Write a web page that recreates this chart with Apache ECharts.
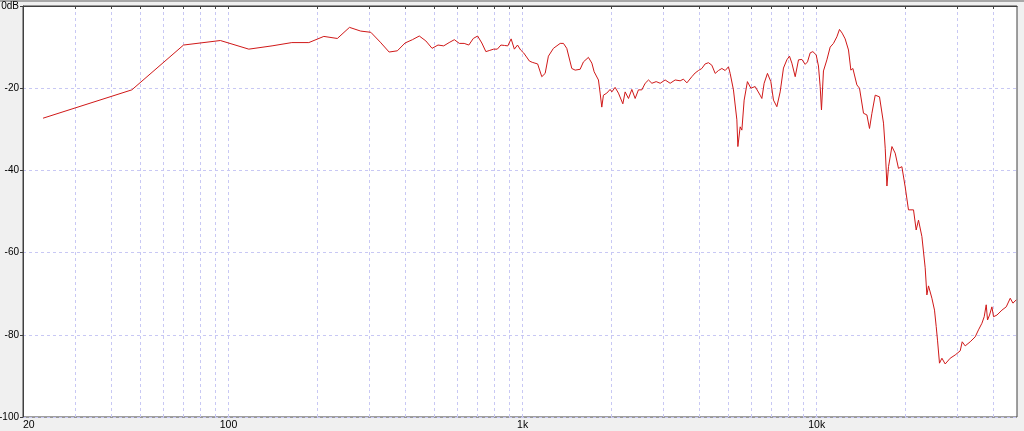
<!DOCTYPE html>
<html>
<head>
<meta charset="utf-8">
<script src="https://cdn.jsdelivr.net/npm/echarts@6/dist/echarts.min.js"></script>
<style>
html,body{margin:0;padding:0;background:#f0f0f0;}
#c{width:1024px;height:431px;}
</style>
</head>
<body>
<div id="c"></div>
<script>
// Frequency (Hz)
const freqs = [
  23.4, 46.9, 70.3, 93.8, 117.2, 140.6, 164.1, 187.5, 210.9, 234.4,
  257.8, 281.3, 304.7, 328.1, 351.6, 375.0, 398.4, 421.9, 445.3, 468.8,
  492.2, 515.6, 539.1, 562.5, 585.9, 609.4, 632.8, 656.3, 679.7, 703.1,
  726.6, 750.0, 773.4, 796.9, 820.3, 843.8, 867.2, 890.6, 914.1, 937.5,
  960.9, 984.4, 1007.8, 1031.3, 1054.7, 1078.1, 1101.6, 1125.0,
  1162, 1193, 1224, 1273, 1342, 1377, 1413, 1470, 1509, 1569, 1610, 1674, 1720, 1751,
  1811, 1835, 1859, 1883, 1933, 1984, 2011, 2063, 2118, 2192, 2232, 2291, 2352, 2414,
  2477, 2544, 2611, 2680, 2752, 2846, 2937, 3053, 3175, 3302, 3434, 3523, 3619, 3763,
  3861, 3963, 4069, 4175, 4285, 4400, 4517, 4634, 4760, 4885, 5012, 5079, 5212, 5353,
  5395, 5493, 5567, 5667, 5815, 5973, 6177, 6423, 6510, 6627, 6802, 6985, 7130, 7321,
  7514, 7711, 7918, 8082, 8235, 8452, 8674, 8908, 9141, 9307, 9504, 9707, 9961, 10141,
  10278, 10383, 10546, 10832, 11115, 11405, 11713, 11955, 12209, 12500, 12829, 13071,
  13278, 13700, 13984, 14430, 14817, 15124, 15412, 15815, 16356, 16876, 17104, 17334,
  17551, 18026, 18492, 18975, 19489, 19998, 20522, 20797, 21345, 21796, 22196, 22794,
  23388, 23703, 24006, 24650, 25160, 25498, 25757, 26163, 26662, 27358, 28450, 29588,
  30768, 31254, 31996, 33272, 34600, 35507, 36469, 37131, 37717, 38110, 38713, 39442,
  39944, 41017, 42655, 44122, 45527, 46492, 47720
];
// Level (dB)
const levels = [
  -27.3, -20.4, -9.5, -8.4, -10.5, -9.7, -8.9, -8.9, -7.4, -7.9,
  -5.2, -6.1, -6.4, -8.8, -11.2, -10.9, -9.0, -8.2, -7.3, -8.5,
  -10.3, -9.5, -9.7, -8.9, -8.2, -9.1, -9.1, -9.5, -7.9, -7.3,
  -9.0, -11.1, -10.8, -10.5, -10.5, -9.5, -9.6, -9.7, -8.0, -10.5,
  -9.5, -10.7, -11.4, -12.4, -13.4, -13.7, -13.9, -14.1,
  -17.2, -16.4, -12.2, -10.3, -9.1, -9.1, -10.3, -15.2, -15.6, -15.4, -13.6, -12.5, -13.9, -16.0,
  -18.0, -21.2, -24.6, -21.7, -21.2, -20.3, -20.9, -19.8, -21.2, -23.8, -20.9, -22.5, -20.3, -22.5,
  -20.4, -20.4, -18.8, -18.0, -18.8, -18.4, -18.8, -18.0, -18.8, -18.0, -18.2, -17.8, -18.7, -17.2,
  -16.3, -15.7, -15.2, -14.1, -13.8, -14.4, -16.4, -15.7, -15.2, -15.7, -14.8, -16.4, -20.4, -27.7,
  -34.2, -29.4, -30.2, -22.9, -18.4, -20.0, -19.6, -21.7, -22.5, -18.8, -16.4, -18.4, -22.9, -24.5,
  -20.9, -15.1, -13.1, -12.2, -13.9, -17.2, -13.1, -13.0, -14.2, -13.6, -11.4, -11.1, -11.9, -14.6,
  -19.6, -25.3, -15.8, -13.1, -10.0, -9.1, -7.5, -5.7, -6.6, -8.0, -10.7, -15.6,
  -15.2, -19.2, -20.0, -26.1, -26.5, -29.8, -26.1, -21.7, -22.1, -28.5, -34.6, -43.8,
  -39.1, -34.2, -35.8, -39.5, -39.1, -44.0, -49.6, -50.0, -49.6, -54.5, -52.1, -56.1,
  -63.7, -70.3, -68.1, -71.1, -74.0, -78.0, -81.3, -86.9, -85.7, -87.1, -85.7, -84.9,
  -83.9, -81.7, -82.7, -81.7, -80.5, -78.8, -77.2, -75.6, -72.7, -76.4, -75.2, -73.2,
  -75.6, -75.2, -74.0, -73.2, -71.1, -72.3, -71.5
];
// Axis ticks
const xGridValues = [20,30,40,50,60,70,80,90,100,200,300,400,500,600,700,800,900,
  1000,2000,3000,4000,5000,6000,7000,8000,9000,10000,20000,30000,40000];
const xLabelValues = [20, 100, 1000, 10000];
const xMin = 20, xMax = 48000;
const yMin = -100, yMax = 0, yStep = 20;

const data = freqs.map((f, i) => [f, levels[i]]);
const chart = echarts.init(document.getElementById('c'), null, {renderer: 'canvas'});
const font = '"Liberation Sans", Arial, sans-serif';
chart.setOption({
  animation: false,
  backgroundColor: '#f0f0f0',
  graphic: [{type: 'rect', left: 0, top: 0, shape: {width: 1024, height: 2}, style: {fill: '#a8a8a8'}, silent: true}],
  grid: {left: 23, right: 7, top: 6, bottom: 14, show: true, outerBoundsMode: 'none', containLabel: false,
         backgroundColor: '#ffffff', borderColor: '#404040', borderWidth: 1},
  xAxis: {
    type: 'log', logBase: 10, min: xMin, max: xMax,
    axisLine: {show: true, lineStyle: {color: '#404040', width: 1}},
    axisTick: {show: true, length: 3, customValues: xGridValues, lineStyle: {color: '#404040'}},
    minorTick: {show: false},
    axisLabel: {customValues: xLabelValues, margin: 3, color: '#000', fontSize: 10.5, fontFamily: font,
      alignMinLabel: 'left',
      formatter: v => v >= 1000 ? (v / 1000) + 'k' : String(v)},
    splitLine: {show: true, lineStyle: {color: '#c8c8f4', type: [3, 3], width: 1}}
  },
  yAxis: {
    type: 'value', min: yMin, max: yMax, interval: yStep,
    axisLine: {show: true, lineStyle: {color: '#404040', width: 1}},
    axisTick: {show: true, length: 3, lineStyle: {color: '#404040'}},
    axisLabel: {margin: 4, color: '#000', fontSize: 10, fontFamily: font,
      formatter: v => v === 0 ? '0dB' : String(v)},
    splitLine: {show: true, lineStyle: {color: '#c8c8f4', type: [3, 3], width: 1}}
  },
  series: [{
    type: 'line', data: data, showSymbol: false, symbol: 'none',
    lineStyle: {color: '#d01818', width: 1}, z: 5
  }]
});
</script>
</body>
</html>
